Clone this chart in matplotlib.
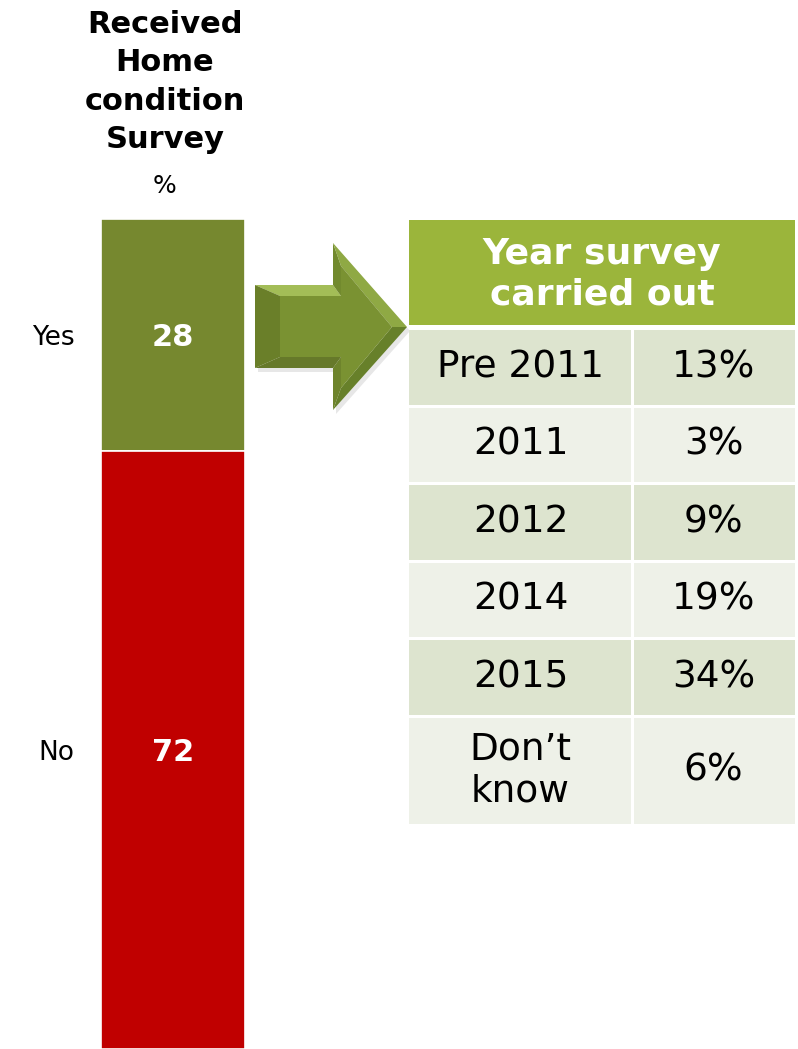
import matplotlib.pyplot as plt
from matplotlib.patches import Polygon, Rectangle

# survey split (stacked bar)
answers = ["Yes", "No"]
answer_pct = [28, 72]
answer_colors = ["#76882f", "#c00000"]

# year the survey was carried out (table)
years = ["Pre 2011", "2011", "2012", "2014", "2015", "Don\u2019t\nknow"]
year_pct = [13, 3, 9, 19, 34, 6]

W, H = 798, 1049
fig = plt.figure(figsize=(W / 100, H / 100), dpi=100)

# overlay in pixel units for the title, arrow and table
ax = fig.add_axes([0, 0, 1, 1])
ax.set_xlim(0, W)
ax.set_ylim(H, 0)
ax.axis("off")

# stacked bar
bar_left, bar_w, bar_top = 101, 144, 219
bax = fig.add_axes([bar_left / W, 0, bar_w / W, (H - bar_top) / H])
bax.set_xlim(-0.5, 0.5)
bax.set_ylim(100, 0)
bottom = 0
centers = []
for lab, v, c in zip(answers, answer_pct, answer_colors):
    bax.bar(0, v, bottom=bottom, width=1, color=c, edgecolor="white", linewidth=1.2)
    centers.append(bottom + v / 2)
    bax.text(0, bottom + v / 2 + 0.3, f"{v}", ha="center", va="center",
             color="white", fontsize=22, fontweight="bold")
    bottom += v
bax.set_yticks(centers)
bax.set_yticklabels(answers, fontsize=19)
bax.tick_params(axis="y", length=0, pad=19)
bax.set_xticks([])
for s in bax.spines.values():
    s.set_visible(False)

ax.text(165, 82, "Received\nHome\ncondition\nSurvey", ha="center", va="center",
        fontsize=22, fontweight="bold", linespacing=1.42)
ax.text(165, 186, "%", ha="center", va="center", fontsize=18)

# bevelled arrow
outer = [(255, 285), (333, 285), (333, 243), (407, 327),
         (333, 410), (333, 368), (255, 368)]
inner = [(280, 296), (341, 296), (341, 266), (392, 327),
         (341, 388), (341, 357), (280, 357)]
shadow = [(x + 3, y + 4) for x, y in outer]
ax.add_patch(Polygon(shadow, closed=True, fc="#c4c4c4", ec="none", alpha=0.4))
facet_colors = ["#a3bd57", "#728a2e", "#8fa944", "#67802a",
                "#6e842c", "#66792a", "#6a7f29"]
for i in range(len(outer)):
    j = (i + 1) % len(outer)
    ax.add_patch(Polygon([outer[i], outer[j], inner[j], inner[i]], closed=True,
                         fc=facet_colors[i], ec="none"))
ax.add_patch(Polygon(inner, closed=True, fc="#7a9232", ec="none"))

# table
tx0, tx1, tx_split = 409, 795, 632
gap = 3
ax.add_patch(Rectangle((tx0, 220), tx1 - tx0, 105, fc="#9bb53b", ec="none"))
ax.text((tx0 + tx1) / 2, 274, "Year survey\ncarried out", ha="center", va="center",
        color="white", fontsize=26, fontweight="bold", linespacing=1.25)

row_h = 74.5
y = 330
for k, (yr, v) in enumerate(zip(years, year_pct)):
    h = 106 if "\n" in yr else row_h
    fc = "#dde4cf" if k % 2 == 0 else "#eef1e8"
    ax.add_patch(Rectangle((tx0, y), tx_split - tx0 - gap / 2, h, fc=fc, ec="none"))
    ax.add_patch(Rectangle((tx_split + gap / 2, y), tx1 - tx_split - gap / 2, h,
                           fc=fc, ec="none"))
    ax.text((tx0 + tx_split) / 2, y + h / 2, yr, ha="center", va="center",
            fontsize=27, linespacing=1.2)
    ax.text((tx_split + tx1) / 2, y + h / 2, f"{v}%", ha="center", va="center",
            fontsize=27)
    y += h + gap

fig.savefig("out.png", dpi=100)
